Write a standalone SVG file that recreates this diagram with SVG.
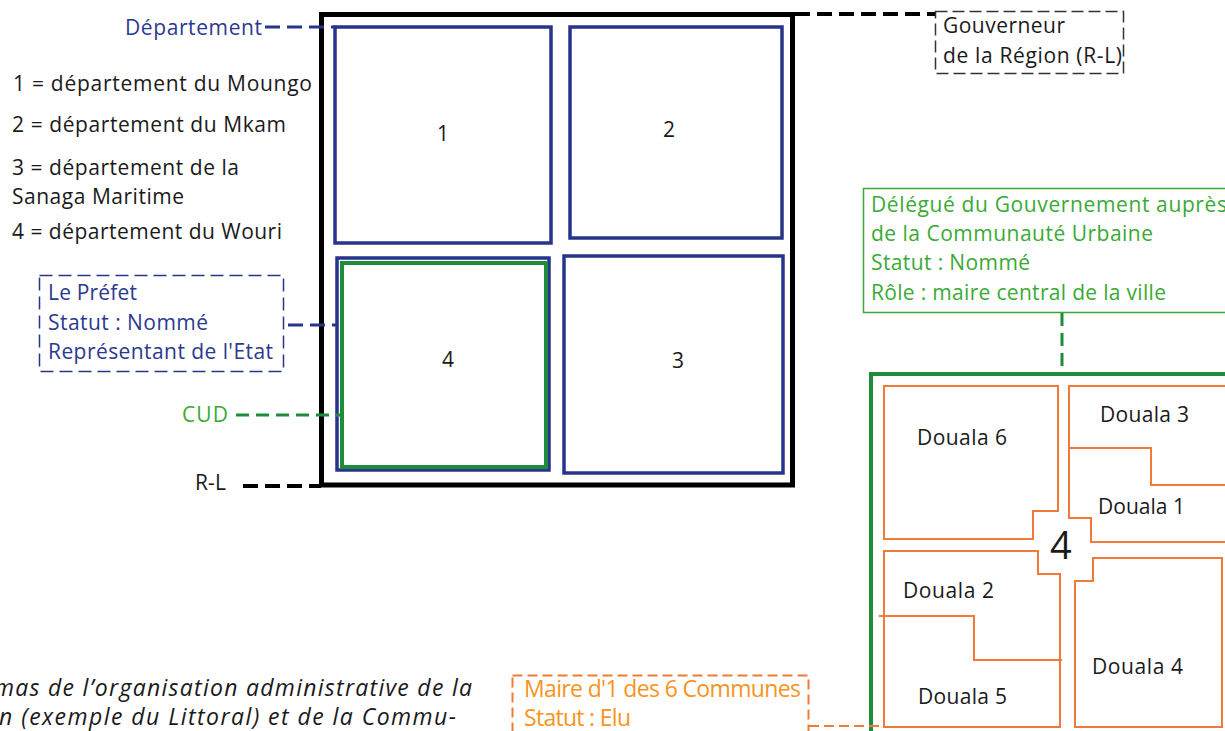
<svg xmlns="http://www.w3.org/2000/svg" width="1225" height="731" viewBox="0 0 1225 731">
<style>
text{font-family:"Open Sans","Liberation Sans",sans-serif;font-size:21px;fill:#1a1a1a}
.blue{fill:#2b3990}
.green{fill:#3aaa35}
.orange{fill:#f7941d;font-size:23px}
.big{font-size:38px}
.cap{font-style:italic;font-size:23px}
.dep{fill:none;stroke:#27348b;stroke-width:3.5}
.cud{fill:none;stroke:#1e8c3a;stroke-width:4}
.com{fill:none;stroke:#f07b37;stroke-width:2}
.c-blue{stroke:#27348b;stroke-width:3;stroke-dasharray:15 7;fill:none}
.c-black{stroke:#000;stroke-width:4;stroke-dasharray:15 7;fill:none}
.c-green{stroke:#1e8c3a;stroke-width:3;stroke-dasharray:13 7;fill:none}
.c-orange{stroke:#f07b37;stroke-width:2;stroke-dasharray:10 5;fill:none}
</style>

<g id="region">
<rect x="321.5" y="14.5" width="471" height="470.5" fill="none" stroke="#000" stroke-width="5"/>
</g>
<g id="dept1"><rect class="dep" x="335" y="27" width="216" height="216"/><text x="443" y="141" text-anchor="middle">1</text></g>
<g id="dept2"><rect class="dep" x="570" y="27" width="212" height="211"/><text x="669" y="137" text-anchor="middle">2</text></g>
<g id="dept4"><rect class="dep" x="337" y="258" width="212" height="212"/><rect class="cud" x="342" y="263" width="204" height="204"/><text x="448" y="367" text-anchor="middle">4</text></g>
<g id="dept3"><rect class="dep" x="564" y="256" width="219" height="217"/><text x="678" y="368" text-anchor="middle">3</text></g>

<g id="label-departement"><text class="blue" x="125" y="35" textLength="137">Département</text></g>
<g id="legend">
<text x="13" y="91" textLength="299">1 = département du Moungo</text>
<text x="12" y="132" textLength="274">2 = département du Mkam</text>
<text x="12" y="175" textLength="227">3 = département de la</text>
<text x="12" y="204" textLength="172">Sanaga Maritime</text>
<text x="12" y="239" textLength="270">4 = département du Wouri</text>
</g>
<g id="prefet">
<rect x="39.5" y="275.5" width="244" height="96" fill="none" stroke="#27348b" stroke-width="1.5" stroke-dasharray="13 6"/>
<text class="blue" x="48" y="300" textLength="89">Le Préfet</text>
<text class="blue" x="48" y="330" textLength="160">Statut : Nommé</text>
<text class="blue" x="48" y="359" textLength="225">Représentant de l'Etat</text>
</g>
<g id="label-cud"><text class="green" x="182" y="422" textLength="46">CUD</text></g>
<g id="label-rl"><text x="195" y="490" textLength="31">R-L</text></g>
<g id="gouverneur">
<rect x="935.5" y="11.5" width="188" height="62" fill="none" stroke="#333" stroke-width="1.5" stroke-dasharray="12 5"/>
<text x="943" y="33" textLength="122">Gouverneur</text>
<text x="943" y="63" textLength="179">de la Région (R-L)</text>
</g>
<g id="delegue">
<rect x="863.5" y="188.5" width="380" height="124" fill="none" stroke="#3aaa35" stroke-width="1.5"/>
<text class="green" x="871" y="212" textLength="356">Délégué du Gouvernement auprès</text>
<text class="green" x="871" y="241" textLength="282">de la Communauté Urbaine</text>
<text class="green" x="871" y="270" textLength="159">Statut : Nommé</text>
<text class="green" x="871" y="300" textLength="295">Rôle : maire central de la ville</text>
</g>
<g id="cud-douala">
<rect class="cud" x="871" y="374" width="380" height="380"/>
<text class="big" x="1050" y="559">4</text>
</g>
<g id="douala6">
<polygon class="com" points="884,386 1058,386 1058,511 1033,511 1033,539 884,539"/>
<text x="917" y="445" textLength="90">Douala 6</text>
</g>
<g id="douala3">
<polyline class="com" points="1069,448 1069,386 1230,386"/>
<polyline class="com" points="1069,448 1151,448 1151,485 1230,485"/>
<text x="1100" y="422" textLength="89">Douala 3</text>
</g>
<g id="douala1">
<polyline class="com" points="1069,448 1069,518 1091,518 1091,542 1230,542"/>
<text x="1098" y="514" textLength="87">Douala 1</text>
</g>
<g id="douala2">
<polyline class="com" points="884,616 884,551 1038,551 1038,574 1060,574 1060,660"/>
<polyline class="com" points="879,616 974,616 974,660 1062,660"/>
<text x="903" y="598" textLength="91">Douala 2</text>
</g>
<g id="douala5">
<polyline class="com" points="884,616 884,727 1060,727 1060,660"/>
<text x="918" y="704" textLength="89">Douala 5</text>
</g>
<g id="douala4">
<polygon class="com" points="1075,581 1093,581 1093,558 1222,558 1222,727 1075,727"/>
<text x="1092" y="674" textLength="91">Douala 4</text>
</g>
<g id="maire">
<rect x="512.5" y="675.5" width="296" height="70" fill="none" stroke="#f07b37" stroke-width="2" stroke-dasharray="10 5"/>
<text class="orange" x="524" y="697" textLength="277">Maire d'1 des 6 Communes</text>
<text class="orange" x="524" y="726" textLength="107">Statut : Elu</text>
</g>
<g id="caption">
<text class="cap" x="-6" y="696" textLength="478">mas de l’organisation administrative de la</text>
<text class="cap" x="-1" y="725" textLength="457">n (exemple du Littoral) et de la Commu-</text>
</g>

<g id="connectors">
<line class="c-blue" x1="265" y1="27" x2="335" y2="27"/>
<line class="c-blue" x1="288" y1="325" x2="338" y2="325"/>
<line class="c-green" x1="236" y1="415" x2="342" y2="415"/>
<line class="c-black" x1="243" y1="486" x2="321" y2="486"/>
<line class="c-black" x1="795" y1="14" x2="935" y2="14"/>
<line class="c-green" x1="1062" y1="313" x2="1062" y2="372"/>
<line class="c-orange" x1="809" y1="726" x2="884" y2="726"/>
</g>
</svg>
